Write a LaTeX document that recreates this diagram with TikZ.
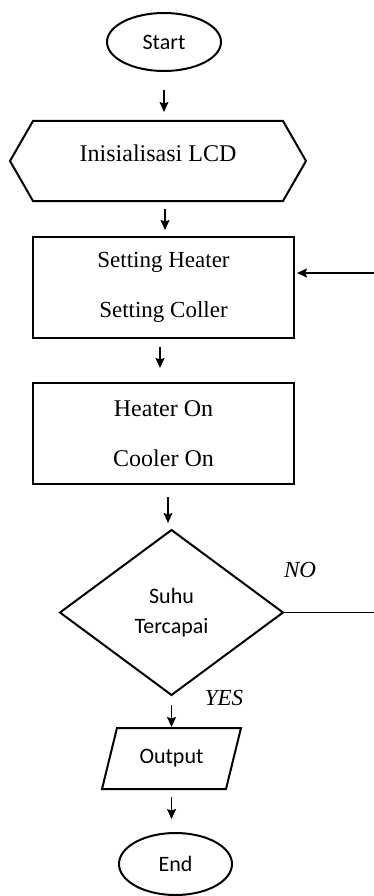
\documentclass[tikz,border=0pt]{standalone}
\usepackage{fontspec}
\setmainfont{Liberation Serif}
\newfontfamily\carlitofont{Carlito}
\usetikzlibrary{shapes.geometric,arrows.meta}
\tikzset{
  shp/.style={draw, line width=2pt},
  arr/.style={line width=1.3pt, -{Stealth[length=10pt,width=9pt,inset=1.5pt]}},
  ser/.style={font=\fontsize{24}{28}\selectfont},
  san/.style={font=\carlitofont\fontsize{22}{30}\selectfont},
  lbl/.style={font=\itshape\fontsize{23}{28}\selectfont},
}
\begin{document}
\begin{tikzpicture}[x=1pt,y=-1pt,outer sep=0pt]
\useasboundingbox (0,0) rectangle (374,896);
% start
\node[shp, ellipse, minimum width=114pt, minimum height=58pt, inner sep=0pt, san] (start) at (164,42) {Start};
% init hexagon
\node[minimum width=296pt, minimum height=80pt, inner sep=0pt,
      label={[ser, yshift=8pt]center:Inisialisasi LCD}] (init) at (158,161) {};
\draw[shp] (init.west) -- ([xshift=23pt]init.north west) -- ([xshift=-23pt]init.north east)
  -- (init.east) -- ([xshift=-23pt]init.south east) -- ([xshift=23pt]init.south west) -- cycle;
% box1
\node[shp, minimum width=261pt, minimum height=101pt, align=center,
      font=\fontsize{23}{50}\selectfont] (box1) at (163.5,287.5)
      {Setting Heater\\Setting Coller};
% box2
\node[shp, minimum width=261pt, minimum height=101pt, align=center,
      font=\fontsize{24}{50}\selectfont] (box2) at (163.5,433.5)
      {Heater On\\Cooler On};
% decision
\node[minimum width=223pt, minimum height=165pt, inner sep=0pt, align=center,
      font=\carlitofont\fontsize{22}{30}\selectfont] (dec) at (171.5,612.5) {Suhu\\Tercapai};
\draw[shp] (dec.north) -- (dec.east) -- (dec.south) -- (dec.west) -- cycle;
% output
\node[minimum width=139pt, minimum height=61pt, inner sep=0pt, san] (out) at (171.5,758.5) {Output};
\draw[shp] ([xshift=15pt]out.north west) -- (out.north east) -- ([xshift=-15pt]out.south east)
  -- (out.south west) -- cycle;
% end
\node[shp, ellipse, minimum width=113pt, minimum height=62pt, inner sep=0pt, san] (fin) at (175.5,864) {End};
% arrows
\draw[arr, shorten <=19pt, shorten >=9pt] (start.south) -- (start.south |- init.north);
\draw[arr, shorten <=8pt, shorten >=7pt] ([xshift=7pt]init.south) -- ([xshift=7pt]init.south |- box1.north);
\draw[arr, shorten <=9pt, shorten >=15pt] ([xshift=-3.5pt]box1.south) -- ([xshift=-3.5pt]box1.south |- box2.north);
\draw[arr, shorten <=13pt, shorten >=7pt] ([xshift=4.5pt]box2.south) -- ([xshift=4.5pt]box2.south |- dec.north);
\draw[arr, shorten <=10pt, shorten >=1pt] (dec.south) -- (dec.south |- out.north);
\draw[arr, shorten <=8pt, shorten >=14pt] (out.south) -- (out.south |- fin.north);
% feedback
\coordinate (r1) at (374,612.5);
\coordinate (r2) at (374,273);
\draw[line width=1.3pt] (dec.east) -- (r1);
\draw[arr, shorten >=3pt] (r2) -- (box1.east |- r2);
% labels
\node[lbl] (no) at (300,570) {NO};
\node[lbl] (yes) at (224,698) {YES};
\end{tikzpicture}
\end{document}
